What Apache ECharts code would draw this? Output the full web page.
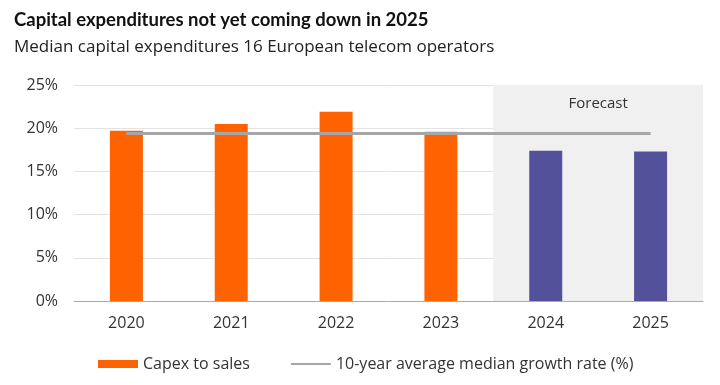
<!DOCTYPE html>
<html><head><meta charset="utf-8">
<script src="https://cdn.jsdelivr.net/npm/echarts@6/dist/echarts.min.js"></script>
<style>html,body{margin:0;padding:0;background:#fff}#c{width:720px;height:385px}</style>
</head><body><div id="c"></div>
<script>
const categories = ['2020','2021','2022','2023','2024','2025'];
const capexToSales = [19.7, 20.5, 21.9, 19.6, 17.4, 17.3];
const forecastFlags = [false, false, false, false, true, true];
const avgRate = [19.4, 19.4, 19.4, 19.4, 19.4, 19.4];
const yTicks = [0, 5, 10, 15, 20, 25];

const FONT = '"Open Sans", "Noto Sans", sans-serif';
const chart = echarts.init(document.getElementById('c'));
chart.setOption({
  animation: false,
  textStyle: {fontFamily: FONT},
  title: [
    {text: 'Capital expenditures not yet coming down in 2025', left: 9, top: 6,
     textStyle: {fontSize: 18.5, fontWeight: 'bold', color: '#111', fontFamily: 'Lato, sans-serif'}},
    {text: 'Median capital expenditures 16 European telecom operators', left: 9, top: 34,
     textStyle: {fontSize: 17, fontWeight: 'normal', color: '#222', fontFamily: FONT}}
  ],
  legend: {
    bottom: 8, left: 93, itemGap: 40, itemWidth: 40, itemHeight: 8,
    textStyle: {fontSize: 16, color: '#333', fontFamily: FONT},
    data: [
      {name: 'Capex to sales', icon: 'rect'},
      {name: '10-year average median growth rate (%)', itemStyle: {opacity: 0}}
    ]
  },
  grid: {left: 74, right: 17, top: 85, bottom: 84},
  xAxis: [
    {type: 'category', data: categories,
     axisLine: {lineStyle: {color: '#aaa'}},
     axisTick: {length: 5, lineStyle: {color: '#aaa'}},
     axisLabel: {fontSize: 16, color: '#333', margin: 14}},
    {type: 'value', min: -0.5, max: 5.5, show: false}
  ],
  yAxis: {type: 'value', min: 0, max: 25, interval: 5,
    axisLine: {show: false, onZero: false},
    axisTick: {show: false},
    axisLabel: {formatter: v => yTicks.includes(v) ? v + '%' : '', fontSize: 16, color: '#333', margin: 16},
    splitLine: {lineStyle: {color: '#e3e3e3'}}},
  series: [
    {type: 'line', xAxisIndex: 1, data: [], silent: true,
     markArea: {silent: true,
       itemStyle: {color: '#f0f0f0', borderRadius: [3,3,0,0]},
       label: {show: true, position: 'insideTop', distance: 11, fontSize: 15, color: '#333', fontFamily: FONT},
       data: [[{name: 'Forecast', xAxis: 3.5, yAxis: 0}, {xAxis: 5.5, yAxis: 25}]]}},
    {name: 'Capex to sales', type: 'bar', barWidth: 33,
     itemStyle: {color: '#ff6200'},
     data: capexToSales.map((v, i) => forecastFlags[i] ? {value: v, itemStyle: {color: '#525199'}} : v)},
    {name: '10-year average median growth rate (%)', type: 'line', data: avgRate,
     symbol: 'none', lineStyle: {color: '#a6a6a6', width: 3}, itemStyle: {color: '#a6a6a6'}, z: 5}
  ]
});
</script></body></html>
